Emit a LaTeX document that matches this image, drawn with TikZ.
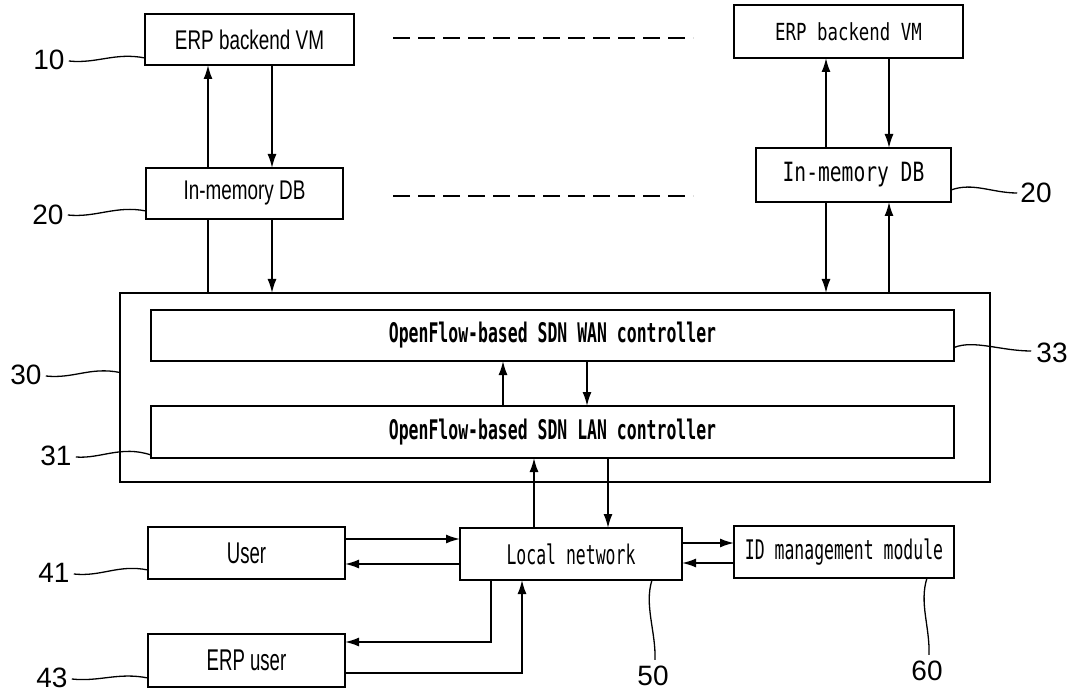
\documentclass[tikz,border=0pt]{standalone}
\usepackage{fontspec}
\setmainfont{Liberation Sans}
\newfontfamily\monoA[FakeStretch=0.61]{DejaVu Sans Mono}
\newfontfamily\monoB[FakeStretch=0.74]{DejaVu Sans Mono}
\newfontfamily\narA[FakeStretch=0.70]{Liberation Sans}
\newfontfamily\narB[FakeStretch=0.62]{Liberation Sans}
\usetikzlibrary{arrows.meta,calc}
\begin{document}
\begin{tikzpicture}[x=1pt,y=-1pt,
  box/.style={draw, line width=1.8pt, inner sep=0pt, outer sep=0pt, align=center},
  arr/.style={line width=1.6pt, -{Latex[length=14pt,width=9pt]}},
  ln/.style={line width=1.6pt},
  lead/.style={line width=1.3pt},
  num/.style={inner sep=0pt, font=\fontsize{28}{30}\selectfont},
  fA/.style={font=\narA\fontsize{27}{30}\selectfont},
  fB/.style={font=\narB\fontsize{30}{32}\selectfont},
  fM/.style={font=\monoA\fontsize{27}{30}\selectfont},
  fMb/.style={font=\monoA\bfseries\fontsize{27}{30}\selectfont},
  fR/.style={font=\monoB\fontsize{26.5}{30}\selectfont},
  fRs/.style={font=\monoB\fontsize{23.5}{28}\selectfont},
]
\useasboundingbox (0,0) rectangle (1070,692);

% boxes
\node[box, fA, minimum width=209pt, minimum height=51pt] (vm1) at (249.5,39.5) {ERP backend VM};
\node[box, fRs, minimum width=229pt, minimum height=53pt] (vm2) at (848.5,31.5) {ERP backend VM};
\node[box, fA, minimum width=197pt, minimum height=51pt] (db1) at (244.5,193.5) {In-memory DB};
\node[box, fR, minimum width=195pt, minimum height=54pt] (db2) at (853.5,175) {In-memory DB};
\node[box, minimum width=870pt, minimum height=189pt] (sdn) at (555,387.5) {};
\node[box, fMb, minimum width=803pt, minimum height=51pt] (wan) at (552.5,335.5) {OpenFlow-based SDN WAN controller};
\node[box, fMb, minimum width=803pt, minimum height=52pt] (lan) at (552.5,432) {OpenFlow-based SDN LAN controller};
\node[box, fB, minimum width=197pt, minimum height=52pt] (user) at (246.5,553) {User};
\node[box, fB, minimum width=197pt, minimum height=53pt] (erpu) at (246.5,660.5) {ERP user};
\node[box, fM, minimum width=222pt, minimum height=52pt] (loc) at (571,554) {Local network};
\node[box, fM, minimum width=220pt, minimum height=52pt] (idm) at (844,552) {ID management module};

% reference numerals
\node[num] (lab10) at (49,60) {10};
\node[num] (lab20a) at (48,215) {20};
\node[num] (lab20b) at (1036,193) {20};
\node[num] (lab30) at (26,375) {30};
\node[num] (lab33) at (1052,353) {33};
\node[num] (lab31) at (56,456) {31};
\node[num] (lab41) at (54,573) {41};
\node[num] (lab43) at (52,678) {43};
\node[num] (lab50) at (653,676) {50};
\node[num] (lab60) at (927,671) {60};

% connector positions
\coordinate (xa) at (208,0);
\coordinate (xb) at (272,0);
\coordinate (xc) at (826,0);
\coordinate (xd) at (889,0);
\coordinate (xe) at (503,0);
\coordinate (xf) at (587,0);
\coordinate (xg) at (534,0);
\coordinate (xh) at (608,0);
\coordinate (xi) at (491,0);
\coordinate (xj) at (522,0);
\coordinate (ya) at (0,539);
\coordinate (yb) at (0,564);
\coordinate (yc) at (0,543);
\coordinate (yd) at (0,563);
\coordinate (ye) at (0,642);
\coordinate (yf) at (0,673);

% top left
\draw[arr] (db1.north -| xa) -- (vm1.south -| xa);
\draw[arr] (vm1.south -| xb) -- (db1.north -| xb);
\draw[ln]  (db1.south -| xa) -- (sdn.north -| xa);
\draw[arr] (db1.south -| xb) -- (sdn.north -| xb);
% top right
\draw[arr] (db2.north -| xc) -- (vm2.south -| xc);
\draw[arr] (vm2.south -| xd) -- (db2.north -| xd);
\draw[arr] (db2.south -| xc) -- (sdn.north -| xc);
\draw[arr] (sdn.north -| xd) -- (db2.south -| xd);
% controllers
\draw[arr] (lan.north -| xe) -- (wan.south -| xe);
\draw[arr] (wan.south -| xf) -- (lan.north -| xf);
\draw[arr] (loc.north -| xg) -- (lan.south -| xg);
\draw[arr] (lan.south -| xh) -- (loc.north -| xh);
% bottom row
\draw[arr] (user.east |- ya) -- (loc.west |- ya);
\draw[arr] (loc.west |- yb) -- (user.east |- yb);
\draw[arr] (loc.east |- yc) -- (idm.west |- yc);
\draw[arr] (idm.west |- yd) -- (loc.east |- yd);
\draw[arr] (loc.south -| xi) |- (erpu.east |- ye);
\draw[arr] (erpu.east |- yf) -| (loc.south -| xj);

% dashed separators
\coordinate (dA1) at (393,38);
\coordinate (dA2) at (693,38);
\coordinate (dB1) at (393,196);
\coordinate (dB2) at (693,196);
\draw[ln, dash pattern=on 17pt off 8pt] (dA1) -- (dA2);
\draw[ln, dash pattern=on 17pt off 8pt] (dB1) -- (dB2);

% leader lines
\draw[lead] ($(lab10.east)+(4,1)$) .. controls +(28,3) and +(-30,-6) .. ($(vm1.south west)+(0,-7)$);
\draw[lead] ($(lab20a.east)+(4,0)$) .. controls +(28,3) and +(-30,-6) .. ($(db1.south west)+(0,-8)$);
\draw[lead] ($(lab30.east)+(4,1)$) .. controls +(28,3) and +(-30,-6) .. ($(sdn.west)+(0,-15)$);
\draw[lead] ($(lab31.east)+(4,1)$) .. controls +(25,2) and +(-30,-10) .. ($(lan.south west)+(0,-3)$);
\draw[lead] ($(lab41.east)+(4,1)$) .. controls +(28,3) and +(-30,-6) .. ($(user.south west)+(0,-9)$);
\draw[lead] ($(lab43.east)+(4,1)$) .. controls +(28,3) and +(-30,-6) .. ($(erpu.south west)+(0,-9)$);
\draw[lead] ($(wan.east)+(0,12)$) .. controls +(20,-8) and +(-30,0) .. ($(lab33.west)+(-5,-2)$);
\draw[lead] ($(db2.east)+(0,15)$) .. controls +(22,-8) and +(-25,0) .. ($(lab20b.west)+(-3,0)$);
\draw[lead] ($(loc.south west)+(192,0)$) .. controls +(-8,25) and +(1,-28) .. ($(lab50.north)+(2,-6)$);
\draw[lead] ($(idm.south west)+(193,0)$) .. controls +(-8,25) and +(1,-28) .. ($(lab60.north)+(2,-6)$);
\end{tikzpicture}
\end{document}
